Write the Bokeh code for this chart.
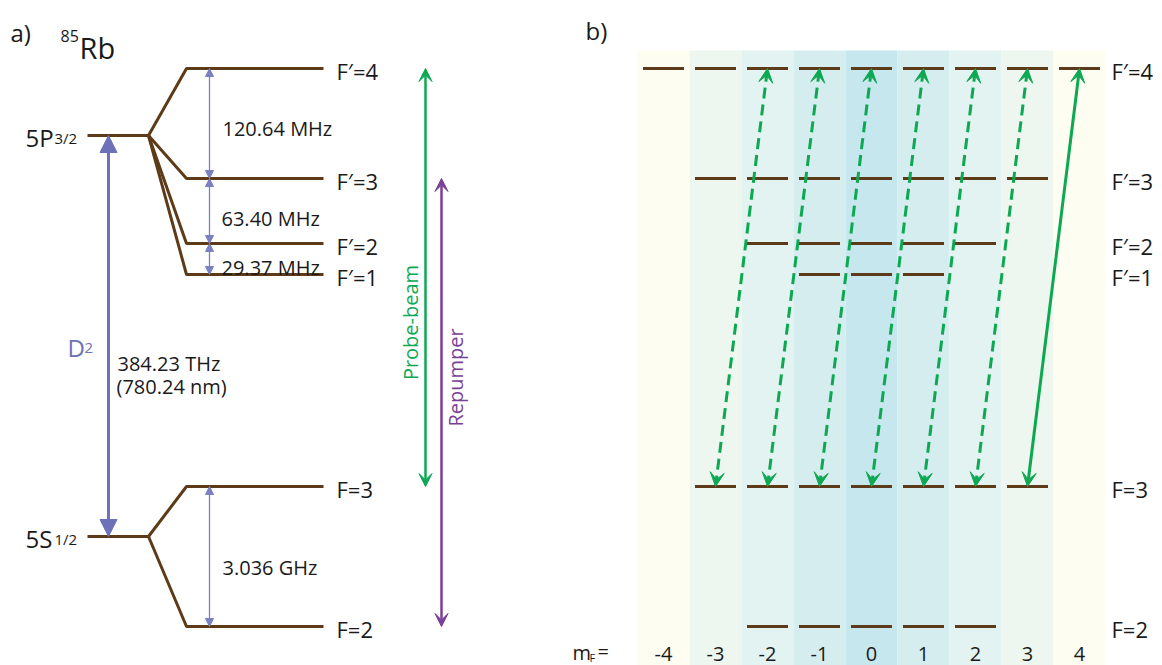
from bokeh.plotting import figure
from bokeh.models import Range1d, Arrow, VeeHead, NormalHead, ColumnDataSource
from bokeh.embed import file_html
from bokeh.resources import INLINE
from bokeh.core.properties import value

# ---------------- data ----------------
excited_F = [4, 3, 2, 1]
ground_F = [3, 2]
excited_labels = ["F′=4", "F′=3", "F′=2", "F′=1"]
ground_labels = ["F=3", "F=2"]
excited_splittings = ["120.64 MHz", "63.40 MHz", "29.37 MHz"]
ground_splitting = ["3.036 GHz"]
d2_labels = ["384.23 THz", "(780.24 nm)"]
mF_values = [-4, -3, -2, -1, 0, 1, 2, 3, 4]
mF_tick_labels = ["-4", "-3", "-2", "-1", "0", "1", "2", "3", "4"]
probe_from_mF = [-3, -2, -1, 0, 1, 2, 3]   # F=3, mF  ->  F'=4, mF+1
probe_dashed = [True, True, True, True, True, True, False]

# ---------------- layout ----------------
FONT = "Open Sans"
W, H = 1162, 665
BROWN = "#5d3b18"
BLUE = "#6c71b9"
BLUE_L = "#7b80c2"
GREEN = "#0ca852"
PURPLE = "#7a3f97"
col_colors = {0: "#c6e7ee", 1: "#d6edf0", 2: "#e3f3f1", 3: "#eef7ef", 4: "#fdfdf1"}

# level heights (screen px)
y_exc = {4: 68, 3: 178, 2: 243, 1: 274}
y_gnd = {3: 486, 2: 626}
y_P, y_S = 135, 536

p = figure(width=W, height=H, x_range=Range1d(0, W), y_range=Range1d(H, 0),
           output_backend="svg", toolbar_location=None, min_border=0,
           x_axis_location=None, y_axis_location=None)
p.grid.visible = False
p.outline_line_color = None
p.background_fill_color = "white"
p.border_fill_color = "white"


def txt(x, y, t, size, color="#1a1a1a", align="left", baseline="alphabetic", angle=0.0):
    p.text(x=x, y=y, text=t, text_font=value(FONT), text_font_size=f"{size}px",
           text_color=color, text_align=align, text_baseline=baseline, angle=angle)


# ================= panel a =================
txt([10], [32], ["a)"], 24)
txt([60], [35], ["85"], 16)
txt([79], [47], ["Rb"], 29)

x0, xs, xk, xe = 87, 148, 186, 323
xsP, ysP = [], []
for F in excited_F:
    xsP.append([xs, xk, xe])
    ysP.append([y_P, y_exc[F], y_exc[F]])
p.multi_line(xs=xsP, ys=ysP, line_color=BROWN, line_width=3)
p.line([x0, xs], [y_P, y_P], line_color=BROWN, line_width=3)
xsS, ysS = [], []
for F in ground_F:
    xsS.append([xs, xk, xe])
    ysS.append([y_S, y_gnd[F], y_gnd[F]])
p.multi_line(xs=xsS, ys=ysS, line_color=BROWN, line_width=3)
p.line([x0, xs], [y_S, y_S], line_color=BROWN, line_width=3)

txt([25], [137], ["5P"], 24)
txt([54], [137], ["3/2"], 15)
txt([25], [538], ["5S"], 24)
txt([54], [538], ["1/2"], 15)

# D2 arrow
p.add_layout(Arrow(x_start=108, y_start=y_S, x_end=108, y_end=y_P,
                   line_color=BLUE, line_width=3,
                   start=NormalHead(size=17, fill_color=BLUE, line_color=BLUE),
                   end=NormalHead(size=17, fill_color=BLUE, line_color=BLUE)))
txt([67], [347], ["D"], 24, color=BLUE)
txt([84], [347], ["2"], 15, color=BLUE)
txt([117, 116], [363, 386], d2_labels, 20)

# hyperfine splitting arrows
pairs = [(y_exc[excited_F[i]], y_exc[excited_F[i + 1]]) for i in range(3)]
pairs.append((y_gnd[3], y_gnd[2]))
src = ColumnDataSource(dict(x0=[209] * 4, y0=[a for a, b in pairs], x1=[209] * 4, y1=[b for a, b in pairs]))
p.add_layout(Arrow(x_start="x0", y_start="y0", x_end="x1", y_end="y1", source=src,
                   line_color=BLUE_L, line_width=1.3,
                   start=NormalHead(size=8, fill_color=BLUE_L, line_color=BLUE_L, line_width=1),
                   end=NormalHead(size=8, fill_color=BLUE_L, line_color=BLUE_L, line_width=1)))
txt([222, 221, 221], [128, 218, 267], excited_splittings, 20)
txt([222], [567], ground_splitting, 20)

label_ys = [y_exc[F] + 2 for F in excited_F] + [y_gnd[F] + 2 for F in ground_F]
txt([336] * 6, label_ys, excited_labels + ground_labels, 22)

# probe / repumper arrows
p.add_layout(Arrow(x_start=425, y_start=y_gnd[3], x_end=425, y_end=y_exc[4],
                   line_color=GREEN, line_width=2.5,
                   start=VeeHead(size=13, fill_color=GREEN, line_color=GREEN),
                   end=VeeHead(size=13, fill_color=GREEN, line_color=GREEN)))
p.add_layout(Arrow(x_start=441, y_start=y_gnd[2], x_end=441, y_end=y_exc[3],
                   line_color=PURPLE, line_width=2.5,
                   start=VeeHead(size=13, fill_color=PURPLE, line_color=PURPLE),
                   end=VeeHead(size=13, fill_color=PURPLE, line_color=PURPLE)))
txt([410], [322], ["Probe-beam"], 20, color=GREEN, align="center", angle=1.5708)
txt([455], [377], ["Repumper"], 20, color=PURPLE, align="center", angle=1.5708)

# ================= panel b =================
txt([585], [30], ["b)"], 24)
col_w = 52
col_left0 = 637
centers = [col_left0 + col_w * (i + 0.5) for i in range(len(mF_values))]
cx = dict(zip(mF_values, centers))
p.quad(left=[c - col_w / 2 for c in centers], right=[c + col_w / 2 for c in centers],
       top=[50] * 9, bottom=[700] * 9,
       fill_color=[col_colors[abs(m)] for m in mF_values], line_color=None)

bx, by = [], []
for F in excited_F:
    for m in range(-F, F + 1):
        bx.append([cx[m] - 20.5, cx[m] + 20.5])
        by.append([y_exc[F], y_exc[F]])
for F in ground_F:
    for m in range(-F, F + 1):
        bx.append([cx[m] - 20.5, cx[m] + 20.5])
        by.append([y_gnd[F], y_gnd[F]])
p.multi_line(xs=bx, ys=by, line_color=BROWN, line_width=3)

for dashed in (True, False):
    ms = [m for m, d in zip(probe_from_mF, probe_dashed) if d == dashed]
    s = ColumnDataSource(dict(x0=[cx[m] for m in ms], y0=[y_gnd[3]] * len(ms),
                              x1=[cx[m + 1] for m in ms], y1=[y_exc[4]] * len(ms)))
    p.add_layout(Arrow(x_start="x0", y_start="y0", x_end="x1", y_end="y1", source=s,
                       line_color=GREEN, line_width=3,
                       line_dash="11 6" if dashed else "solid",
                       start=VeeHead(size=14, fill_color=GREEN, line_color=GREEN, line_width=1),
                       end=VeeHead(size=14, fill_color=GREEN, line_color=GREEN, line_width=1)))

txt([1111] * 6, label_ys, excited_labels + ground_labels, 22)

txt(centers, [653] * 9, mF_tick_labels, 20, align="center")
txt([572], [652], ["m"], 20)
txt([589], [657], ["F"], 11)
txt([597], [651], ["="], 20)

open("out.html", "w").write(file_html(p, INLINE))
